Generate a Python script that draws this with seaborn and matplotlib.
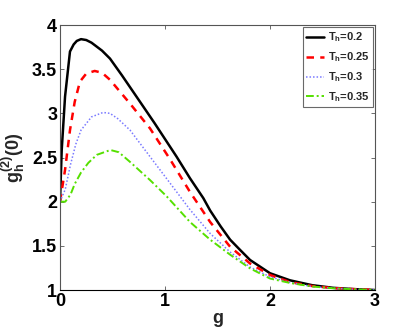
import pandas as pd
import matplotlib
matplotlib.use("Agg")
import matplotlib.pyplot as plt
import seaborn as sns

# -------------------------------
# Data
# -------------------------------
g_02 = [0, 0.016, 0.048, 0.095, 0.13, 0.16, 0.2, 0.25, 0.3, 0.4, 0.476, 0.59, 0.794,
        0.9, 1.11, 1.238, 1.365, 1.43, 1.53, 1.62, 1.71, 1.81, 2.0, 2.19, 2.4, 2.6, 2.8, 3.0]
y_02 = [2.0, 2.58, 3.19, 3.70, 3.78, 3.82, 3.84, 3.83, 3.80, 3.71, 3.62, 3.43, 3.075,
        2.89, 2.51, 2.265, 2.04, 1.90, 1.72, 1.57, 1.46, 1.34, 1.19, 1.11, 1.055, 1.025,
        1.01, 1.0]

g_025 = [0, 0.048, 0.095, 0.14, 0.19, 0.25, 0.33, 0.4, 0.476, 0.667, 0.857, 1.048,
         1.238, 1.43, 1.62, 1.81, 2.0, 2.19, 2.4, 2.6, 2.8, 3.0]
y_025 = [2.0, 2.36, 2.81, 3.13, 3.36, 3.45, 3.48, 3.46, 3.38, 3.11, 2.83, 2.48,
         2.11, 1.77, 1.49, 1.30, 1.17, 1.09, 1.045, 1.022, 1.01, 1.0]

g_03 = [0, 0.05, 0.1, 0.15, 0.2, 0.3, 0.41, 0.476, 0.55, 0.667, 0.857, 1.048, 1.143,
        1.238, 1.43, 1.62, 1.81, 2.0, 2.19, 2.4, 2.6, 2.8, 3.0]
y_03 = [2.0, 2.14, 2.42, 2.65, 2.81, 2.96, 3.01, 3.0, 2.94, 2.81, 2.51, 2.21, 2.06,
        1.91, 1.64, 1.43, 1.26, 1.15, 1.085, 1.04, 1.02, 1.008, 1.0]

g_035 = [0, 0.05, 0.1, 0.14, 0.2, 0.27, 0.35, 0.48, 0.56, 0.667, 0.857, 1.016,
         1.238, 1.43, 1.62, 1.81, 2.0, 2.19, 2.4, 2.6, 2.8, 3.0]
y_035 = [2.0, 2.0, 2.08, 2.2, 2.33, 2.44, 2.53, 2.585, 2.56, 2.45, 2.245, 2.06,
         1.77, 1.57, 1.40, 1.245, 1.13, 1.08, 1.04, 1.02, 1.008, 1.0]

labels = [r"$\mathbf{T_h}$=0.2", r"$\mathbf{T_h}$=0.25",
          r"$\mathbf{T_h}$=0.3", r"$\mathbf{T_h}$=0.35"]

# -------------------------------
# Style
# -------------------------------
sns.set_style("ticks")
plt.rcParams["font.family"] = ["Liberation Sans", "DejaVu Sans"]
plt.rcParams["font.weight"] = "bold"
plt.rcParams["mathtext.fontset"] = "custom"
plt.rcParams["mathtext.rm"] = "Liberation Sans:bold"
plt.rcParams["mathtext.bf"] = "Liberation Sans:bold"
plt.rcParams["mathtext.it"] = "Liberation Sans:bold"

fig = plt.figure(figsize=(4.15, 3.27), dpi=100)
ax = fig.add_axes([0.1446, 0.1131, 0.759, 0.8104])

series = [
    (g_02, y_02, "black", "-", 1.8),
    (g_025, y_025, "red", (0, (3, 2.5)), 1.8),
    (g_03, y_03, "#7a7aff", (0, (1, 1.3)), 1.1),
    (g_035, y_035, "#55e000", (0, (4, 1.5, 1, 1.5)), 1.4),
]
for (gx, gy, col, ls, lw), lab in zip(series, labels):
    df = pd.DataFrame({"g": gx, "g2": gy})
    sns.lineplot(data=df, x="g", y="g2", ax=ax, color=col, linestyle=ls,
                 linewidth=lw, label=lab)

ax.set_xlim(0, 3)
ax.set_ylim(1, 4)
ax.set_xticks([0, 1, 2, 3])
ax.set_yticks([1, 1.5, 2, 2.5, 3, 3.5, 4])
ax.set_yticklabels(["1", "1.5", "2", "2.5", "3", "3.5", "4"])
ax.tick_params(direction="in", top=True, right=True, labelsize=13, length=3,
               width=0.6, pad=2, colors="#555555", labelcolor="black")
for s in ax.spines.values():
    s.set_color("#555555")
    s.set_linewidth(0.8)
ax.spines["bottom"].set_color("black")

ax.set_xlabel("g", fontsize=13, fontweight="bold", labelpad=0)
ax.set_ylabel(r"$\mathbf{g_h^{(2)}(0)}$", fontsize=13, labelpad=4)

leg = ax.legend(loc="upper right", fontsize=8, frameon=True, fancybox=False,
                borderpad=0.3, labelspacing=0.55, handlelength=1.6,
                handletextpad=0.3, borderaxespad=0.2)
leg.get_frame().set_edgecolor("#444444")
leg.get_frame().set_linewidth(0.8)

fig.savefig("out.png", dpi=100)
